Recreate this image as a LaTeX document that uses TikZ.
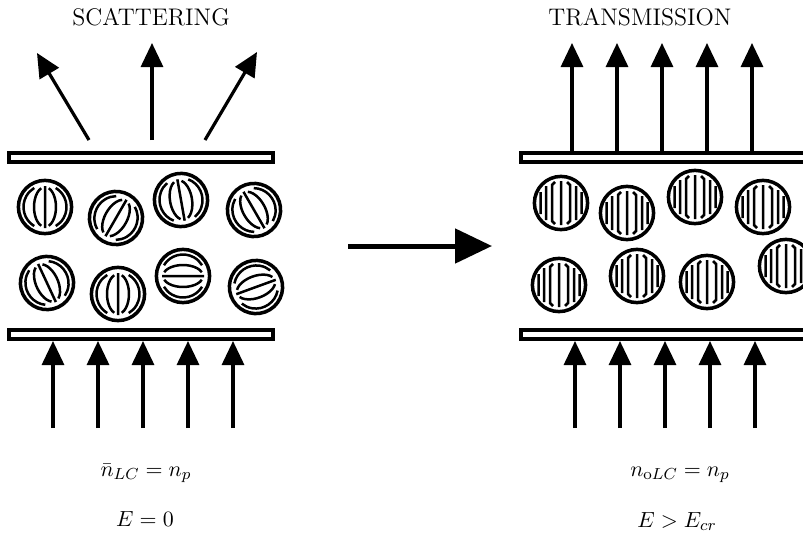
\documentclass[tikz,border=0pt]{standalone}
\usepackage{tikz}
\usetikzlibrary{arrows.meta}
\usepackage{amsmath}

% droplet with random director: meridians of a turned globe
\newcommand{\scatdrop}[3]{%
 \begin{scope}[shift={(#1,#2)},rotate=#3]
  \draw[shell] (0,0) circle (13.3pt);
  \draw[director] (0,-21)--(0,21)
   (-70:11 and 20) arc[start angle=-70,end angle=70,x radius=11,y radius=20]
   (110:11 and 20) arc[start angle=110,end angle=250,x radius=11,y radius=20]
   (-60:21.5 and 22) arc[start angle=-60,end angle=60,x radius=21.5,y radius=22]
   (120:21.5 and 22) arc[start angle=120,end angle=240,x radius=21.5,y radius=22];
 \end{scope}}

% droplet lined up with the field
\newcommand{\orderdrop}[2]{%
 \begin{scope}[shift={(#1,#2)}]
  \draw[shell] (0,0) circle (13.3pt);
  \draw[director] (0,-22)--(0,22)
   (-6,-21)--(-9,-18)--(-9,18)--(-6,21)
   (6,-21)--(9,-18)--(9,18)--(6,21)
   (-15,-17)--(-15,17) (15,-17)--(15,17)
   (-20.5,-11)--(-20.5,11) (20.5,-11)--(20.5,11);
 \end{scope}}

\begin{document}
\begin{tikzpicture}[x=.5pt,y=-.5pt,
 plate/.style={line width=2pt,fill=white},
 ray/.style={line width=1.6pt,-{Triangle[length=12pt,width=11pt]}},
 shell/.style={line width=1.75pt},
 director/.style={line width=1.25pt},
 title/.style={font=\fontsize{12}{14}\selectfont},
 eq/.style={font=\fontsize{11}{13}\selectfont,anchor=base}]
 \useasboundingbox (0,0) rectangle (803,536);

 % off state
 \node[title] (scat) at (151,17.5) {SCATTERING};
 \draw[ray] (89,140)--(37,53);
 \draw[ray] (152,140)--(152,43);
 \draw[ray] (205,140)--(257,52);
 \draw[plate] (9,152.5) rectangle (273,161.5);
 \scatdrop{45}{207}{0} \scatdrop{116}{218}{-30} \scatdrop{181}{200}{10} \scatdrop{254}{210}{30}
 \scatdrop{47}{283}{25} \scatdrop{118}{294}{0} \scatdrop{183}{276}{90} \scatdrop{256}{287}{-70}
 \draw[plate] (9,330) rectangle (273,339);
 \foreach \x in {53,98,143,188,233}
  \draw[ray] (\x,428)--(\x,341);
 \node[eq] (nbar) at (146,476) {$\bar{n}_{LC}=n_p$};
 \node[eq] (ezero) at (145,526) {$E=0$};

 \draw[line width=2.5pt,-{Triangle[length=18.5pt,width=17pt]}] (348,246)--(492,246);

 % field on
 \node[title] (trans) at (640,17.5) {TRANSMISSION};
 \foreach \x in {572,617,662,707,752}
  \draw[ray] (\x,151)--(\x,43);
 \draw[plate] (521,152.5) rectangle (810,161.5);
 \orderdrop{561}{203} \orderdrop{627}{213} \orderdrop{695}{197} \orderdrop{763}{207}
 \orderdrop{559}{285} \orderdrop{637}{276} \orderdrop{707}{282} \orderdrop{786}{266}
 \draw[plate] (521,330) rectangle (810,339);
 \foreach \x in {575,620,665,710,755}
  \draw[ray] (\x,428)--(\x,341);
 \node[eq] (nolc) at (680,476) {$n_{\mathrm{o}LC}=n_p$};
 \node[eq] (ecr) at (677,527) {$E>E_{cr}$};
\end{tikzpicture}
\end{document}
